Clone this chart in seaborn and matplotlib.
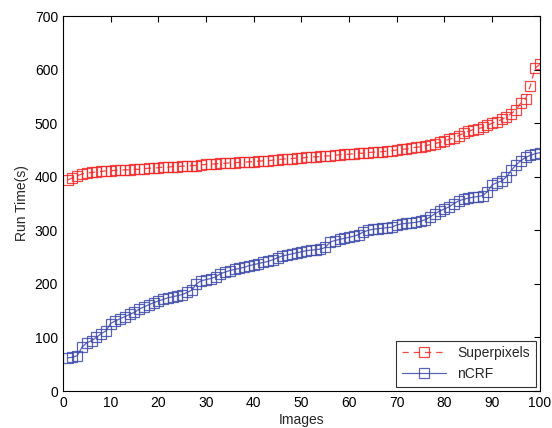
import numpy as np
import pandas as pd
import seaborn as sns
import matplotlib.pyplot as plt

images = list(range(1, 101))

superpixels = [394, 398, 402, 405, 407, 408, 409, 410, 411, 411,
               412, 412, 413, 413, 414, 414, 415, 416, 416, 417,
               418, 418, 419, 419, 420, 420, 421, 421, 422, 423,
               424, 424, 425, 425, 426, 426, 427, 427, 428, 428,
               429, 430, 430, 431, 432, 433, 434, 434, 435, 435,
               436, 437, 437, 438, 439, 439, 440, 441, 442, 442,
               443, 444, 444, 445, 446, 446, 447, 448, 449, 450,
               451, 452, 454, 455, 456, 458, 460, 462, 464, 467,
               470, 473, 477, 481, 485, 488, 490, 492, 496, 500,
               503, 507, 512, 518, 525, 538, 545, 570, 603, 610]

ncrf = [62, 63, 66, 82, 90, 94, 100, 107, 112, 126,
        131, 135, 139, 143, 147, 153, 157, 161, 165, 168,
        171, 174, 176, 178, 180, 184, 188, 200, 206, 208,
        210, 213, 219, 222, 225, 227, 229, 231, 234, 236,
        238, 240, 242, 245, 249, 252, 254, 256, 258, 260,
        262, 263, 264, 265, 268, 278, 281, 283, 285, 287,
        289, 292, 297, 300, 302, 303, 304, 305, 306, 310,
        312, 313, 314, 315, 317, 320, 325, 331, 336, 340,
        344, 350, 355, 358, 360, 362, 363, 365, 372, 385,
        389, 392, 400, 412, 422, 430, 436, 440, 443, 445]

df = pd.DataFrame({'Images': images, 'Superpixels': superpixels, 'nCRF': ncrf})

sns.set_style('white')
plt.rcParams['font.family'] = ['Liberation Sans', 'DejaVu Sans']

fig = plt.figure(figsize=(5.52, 4.28), dpi=100)
ax = fig.add_axes([0.114, 0.0864, 0.864, 0.876])

red = '#f22828'
blue = '#3f4aa8'

sns.lineplot(data=df, x='Images', y='Superpixels', ax=ax, color=red, lw=0.9,
             dashes=(5, 4), marker='s', markersize=7, markerfacecolor='none',
             markeredgecolor=red, markeredgewidth=0.9, alpha=0.85, label='Superpixels')
sns.lineplot(data=df, x='Images', y='nCRF', ax=ax, color=blue, lw=0.9,
             marker='s', markersize=7, markerfacecolor='none',
             markeredgecolor=blue, markeredgewidth=0.9, alpha=0.85, label='nCRF')

ax.set_xlim(0, 100)
ax.set_ylim(0, 700)
ax.set_xticks(range(0, 101, 10))
ax.set_yticks(range(0, 701, 100))
ax.tick_params(direction='in', length=4, width=0.8, top=True, right=True,
               labelsize=10, colors='black')
for s in ax.spines.values():
    s.set_color('black')
    s.set_linewidth(0.8)

ax.set_xlabel('Images', fontsize=10, labelpad=2)
ax.set_ylabel('Run Time(s)', fontsize=10, labelpad=4)

leg = ax.legend(loc='lower right', fontsize=10, frameon=True, fancybox=False,
                edgecolor='black', borderaxespad=0.3, handlelength=3.2)
leg.get_frame().set_linewidth(0.8)

fig.savefig('out.png', dpi=100)
